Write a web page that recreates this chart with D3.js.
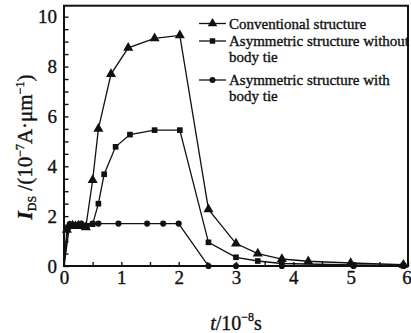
<!DOCTYPE html>
<html>
<head>
<meta charset="utf-8">
<script src="https://cdn.jsdelivr.net/npm/d3@7/dist/d3.min.js"></script>
<style>
  html, body { margin: 0; padding: 0; background: #fff; }
  svg { display: block; }
  text { font-family: "Liberation Serif", "DejaVu Serif", serif; fill: #111; stroke: #111; stroke-width: 0.35; }
</style>
</head>
<body>
<svg id="chart" width="411" height="333"></svg>
<script>
// Drain current after a transient, three device structures (t in 1e-8 s, I in 1e-7 A/um)
const seriesNames = [
  "Conventional structure",
  "Asymmetric structure without body tie",
  "Asymmetric structure with body tie"
];
const conventionalT = [0, 0.05, 0.1, 0.15, 0.2, 0.25, 0.3, 0.38, 0.5, 0.6, 0.82, 1.12, 1.58, 2.02, 2.52, 3.0, 3.38, 3.8, 4.26, 5.0, 5.92];
const conventionalI = [0, 1.45, 1.6, 1.62, 1.6, 1.62, 1.6, 1.55, 3.45, 5.5, 7.7, 8.75, 9.13, 9.25, 2.27, 0.9, 0.5, 0.28, 0.19, 0.12, 0.05];
const noTieT = [0, 0.07, 0.12, 0.17, 0.22, 0.28, 0.33, 0.4, 0.5, 0.6, 0.7, 0.9, 1.15, 1.58, 2.02, 2.52, 3.0, 3.38, 3.8, 5.05, 5.92];
const noTieI = [0, 1.55, 1.62, 1.6, 1.63, 1.6, 1.62, 1.6, 1.68, 2.5, 3.68, 4.78, 5.27, 5.45, 5.45, 0.95, 0.35, 0.2, 0.1, 0.04, 0.02];
const withTieT = [0, 0.1, 0.3, 0.5, 0.6, 0.95, 1.45, 1.73, 2.0, 2.52, 3.0, 3.8, 5.05, 5.92];
const withTieI = [0, 1.68, 1.7, 1.7, 1.7, 1.7, 1.7, 1.7, 1.7, 0, 0, 0, 0, 0];
const xTicks = [0, 1, 2, 3, 4, 5, 6];
const yTicks = [0, 2, 4, 6, 8, 10];

const svg = d3.select("#chart");
const padL = 64, padR = 408, padB = 266, padT = 5.7;

const x = d3.scaleLinear().domain([0, 6]).range([padL, padR]);
const y = d3.scaleLinear().domain([0, 10]).range([padB, 16.7]);

// tick positions every 0.5, labels on the major values only
const xMinor = d3.range(0, 6.01, 0.5);
const yMinor = d3.range(0, 10.01, 0.5);

const ax = svg.append("g").attr("transform", `translate(0,${padB})`)
  .call(d3.axisBottom(x).tickValues(xMinor).tickSize(-4).tickPadding(5)
    .tickFormat(d => xTicks.includes(d) ? d3.format("d")(d) : ""));
ax.select(".domain").remove();
ax.selectAll("line").attr("stroke", "#111").attr("stroke-width", 1.4);
ax.selectAll("text").attr("font-size", 19).attr("font-family", "Liberation Serif").attr("fill", "#111");
// keep the last label inside the canvas
ax.selectAll(".tick").filter(d => d === 6).select("text").attr("dx", -1.5);

const ay = svg.append("g").attr("transform", `translate(${padL},0)`)
  .call(d3.axisLeft(y).tickValues(yMinor).tickSize(-4.5).tickPadding(7)
    .tickFormat(d => yTicks.includes(d) ? d3.format("d")(d) : ""));
ay.select(".domain").remove();
ay.selectAll("line").attr("stroke", "#111").attr("stroke-width", 1.4);
ay.selectAll("text").attr("font-size", 19).attr("font-family", "Liberation Serif").attr("fill", "#111");

// plot frame
svg.append("rect")
  .attr("x", padL).attr("y", padT)
  .attr("width", padR - padL).attr("height", padB - padT)
  .attr("fill", "none").attr("stroke", "#111").attr("stroke-width", 2);

const line = d3.line().x(d => x(d[0])).y(d => y(d[1]));
const zip = (a, b) => a.map((v, i) => [v, b[i]]);

const series = [
  { pts: zip(conventionalT, conventionalI), shape: d3.symbolTriangle, size: 44 },
  { pts: zip(noTieT, noTieI), shape: d3.symbolSquare, size: 32 },
  { pts: zip(withTieT, withTieI), shape: d3.symbolCircle, size: 30 }
];

series.forEach(s => {
  svg.append("path").datum(s.pts)
    .attr("d", line).attr("fill", "none")
    .attr("stroke", "#111").attr("stroke-width", 1.3);
  svg.append("g").selectAll("path").data(s.pts.slice(1)).join("path")
    .attr("d", d3.symbol().type(s.shape).size(s.size))
    .attr("transform", d => `translate(${x(d[0])},${y(d[1])})`)
    .attr("fill", "#111");
});

// legend
const legend = [
  { lines: [seriesNames[0]], y: 23.5, shape: d3.symbolTriangle, size: 40 },
  { lines: ["Asymmetric structure without", "body tie"], y: 41, shape: d3.symbolSquare, size: 30 },
  { lines: ["Asymmetric structure with", "body tie"], y: 80, shape: d3.symbolCircle, size: 28 }
];
legend.forEach(l => {
  const g = svg.append("g");
  g.append("line").attr("x1", 199).attr("x2", 226).attr("y1", l.y).attr("y2", l.y)
    .attr("stroke", "#111").attr("stroke-width", 1.3);
  g.append("path").attr("d", d3.symbol().type(l.shape).size(l.size))
    .attr("transform", `translate(212.5,${l.y})`).attr("fill", "#111");
  l.lines.forEach((t, i) => {
    g.append("text").attr("x", 229).attr("y", l.y + 5 + i * 16)
      .attr("font-size", 15).text(t);
  });
});

// axis titles
const yl = svg.append("text")
  .attr("transform", "translate(32,147) rotate(-90)")
  .attr("text-anchor", "middle").attr("font-size", 21);
yl.append("tspan").attr("font-style", "italic").attr("font-weight", "bold").text("I");
yl.append("tspan").attr("font-size", 12).attr("dy", 4).text("DS");
yl.append("tspan").attr("dy", -4).text(" /(10");
yl.append("tspan").attr("font-size", 12).attr("dy", -8).text("−7");
yl.append("tspan").attr("dy", 8).text("A·μm");
yl.append("tspan").attr("font-size", 12).attr("dy", -8).text("−1");
yl.append("tspan").attr("dy", 8).text(")");

const xl = svg.append("text")
  .attr("x", 236).attr("y", 330)
  .attr("text-anchor", "middle").attr("font-size", 20);
xl.append("tspan").attr("font-style", "italic").text("t");
xl.append("tspan").text("/10");
xl.append("tspan").attr("font-size", 12).attr("dy", -9).text("−8");
xl.append("tspan").attr("dy", 9).text("s");
</script>
</body>
</html>
